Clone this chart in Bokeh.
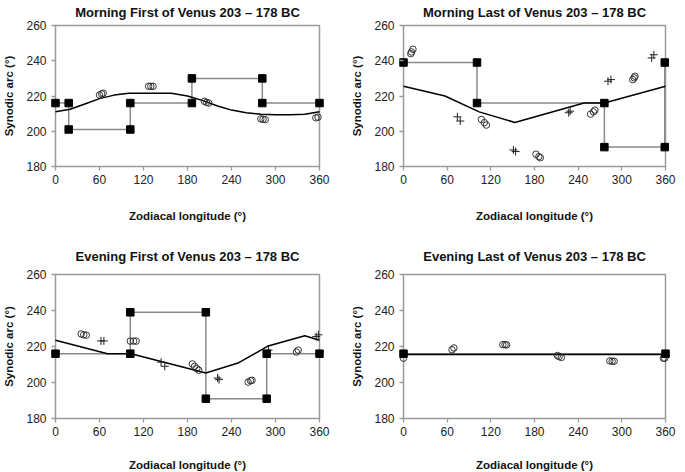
from bokeh.plotting import figure
from bokeh.layouts import gridplot
from bokeh.models import Range1d, FixedTicker
from bokeh.embed import file_html
from bokeh.resources import INLINE

x_ticks = [0, 60, 120, 180, 240, 300, 360]
y_ticks = [180, 200, 220, 240, 260]

titles = ["Morning First of Venus 203 \u2013 178 BC",
          "Morning Last of Venus 203 \u2013 178 BC",
          "Evening First of Venus 203 \u2013 178 BC",
          "Evening Last of Venus 203 \u2013 178 BC"]

# Morning First
mf_step_x = [0, 18, 18, 102, 102, 186, 186, 282, 282, 360]
mf_step_y = [216, 216, 201, 201, 216, 216, 230, 230, 216, 216]
mf_curve_x = [0, 20, 40, 60, 80, 100, 120, 140, 158, 180, 200, 220, 240, 260, 280, 300, 320, 340, 360]
mf_curve_y = [211, 212.5, 215.5, 218.5, 220.5, 221.5, 221.6, 221.6, 221.5, 220, 217.5, 214.5, 212, 210.5, 209.6, 209.4, 209.4, 209.6, 211]
mf_circ_x = [60, 63, 65, 127, 130, 133, 203, 206, 209, 280, 283, 286, 355, 358]
mf_circ_y = [220.6, 221.2, 221.6, 225.5, 225.5, 225.5, 217, 216.4, 216, 207, 206.8, 206.6, 207.6, 208]
mf_cross_x = []
mf_cross_y = []

# Morning Last
ml_step_x = [0, 101, 101, 276, 276, 359, 359]
ml_step_y = [239, 239, 216, 216, 191, 191, 239]
ml_curve_x = [0, 57, 104, 153, 248, 276, 360]
ml_curve_y = [225.5, 220, 211, 205, 216, 216, 225.5]
ml_circ_x = [10, 11, 13, 107, 111, 114, 182, 186, 188, 257, 261, 263, 315, 317, 318]
ml_circ_y = [244, 245, 246.5, 206.7, 204.9, 203.5, 187, 185.6, 185, 209.7, 211, 212, 229.3, 230.3, 231.2]
ml_cross_x = [74, 78, 151, 154, 227, 229, 281, 285, 341, 344]
ml_cross_y = [208.2, 205.8, 189.4, 188.5, 210.5, 211.4, 228.4, 229.3, 241.6, 243.4]

# Evening First
ef_step_x = [0, 102, 102, 205, 205, 288, 288, 360]
ef_step_y = [216, 216, 239, 239, 191, 191, 216, 216]
ef_curve_x = [0, 71, 103, 205, 250, 290, 340, 360]
ef_curve_y = [223.5, 216, 216, 205.3, 211, 220.3, 226, 223.5]
ef_circ_x = [35, 38.5, 42, 102, 106.5, 110, 186.5, 189.6, 192.7, 195.4, 262.7, 266, 268, 328.5, 331]
ef_circ_y = [227, 226.5, 226.3, 223, 223, 223, 210.3, 209, 207.7, 206.8, 200.2, 201, 201.2, 216.9, 218]
ef_cross_x = [62, 66, 144, 149, 221, 223, 290.5, 355.5, 358.5]
ef_cross_y = [223.1, 223.1, 211.3, 209, 202.5, 201.6, 218, 225.5, 226.5]

# Evening Last
el_step_x = [0, 360]
el_step_y = [216, 216]
el_curve_x = [0, 360]
el_curve_y = [215.6, 215.6]
el_circ_x = [0, 66.6, 69.3, 136.4, 139.5, 141.7, 211.5, 213.8, 216.9, 283.5, 286.7, 289.4, 357, 359]
el_circ_y = [213.5, 218.2, 219.2, 221, 221, 220.9, 215, 214.4, 213.9, 212, 211.8, 211.8, 213.5, 213.5]
el_cross_x = []
el_cross_y = []

FONT = "Liberation Sans"
GRAY = "#9a9a9a"
PAD = 5  # px of free frame around the plot box, so edge markers are not clipped


def panel(title, sx, sy, cx, cy, ox, oy, px, py, box_w, box_h, bl, br, bt, bb, title_standoff, xlab_standoff):
    x0, x1 = x_ticks[0], x_ticks[-1]
    y0, y1 = y_ticks[0], y_ticks[-1]
    xpad = PAD * (x1 - x0) / box_w
    ypad = PAD * (y1 - y0) / box_h
    p = figure(frame_width=box_w + 2 * PAD, frame_height=box_h + 2 * PAD,
               x_range=Range1d(x0 - xpad, x1 + xpad), y_range=Range1d(y0 - ypad, y1 + ypad),
               output_backend="svg", toolbar_location=None, title=title,
               min_border_left=bl, min_border_right=br, min_border_top=bt, min_border_bottom=bb)
    p.title.text_font = FONT
    p.title.text_font_size = "13px"
    p.title.text_font_style = "bold"
    p.title.align = "center"
    p.title.text_color = "#111111"
    p.title.standoff = title_standoff
    p.xgrid.visible = False
    p.ygrid.visible = False
    p.outline_line_color = None
    p.background_fill_color = "white"
    p.border_fill_color = "white"
    for ax in (p.xaxis[0], p.yaxis[0]):
        ax.axis_line_color = None
        ax.major_tick_line_color = GRAY
        ax.major_tick_line_width = 1.3
        ax.major_tick_in = PAD
        ax.major_tick_out = -1
        ax.minor_tick_line_color = None
        ax.major_label_text_font = FONT
        ax.major_label_text_font_size = "12px"
        ax.major_label_text_color = "#222222"
        ax.axis_label_text_font = FONT
        ax.axis_label_text_font_size = "11.5px"
        ax.axis_label_text_font_style = "bold"
        ax.axis_label_text_color = "#111111"
    p.xaxis.ticker = FixedTicker(ticks=x_ticks)
    p.yaxis.ticker = FixedTicker(ticks=y_ticks)
    p.xaxis.axis_label = "Zodiacal longitude (\u00b0)"
    p.yaxis.axis_label = "Synodic arc (\u00b0)"
    p.xaxis.axis_label_standoff = xlab_standoff
    p.yaxis.axis_label_standoff = 8
    p.xaxis.major_label_standoff = 3
    p.yaxis.major_label_standoff = 4

    # plot-area box
    p.quad(left=[x0], right=[x1], bottom=[y0], top=[y1], fill_color=None,
           line_color=GRAY, line_width=1.5)
    p.line(sx, sy, line_color="#8a8a8a", line_width=1.5)
    p.line(cx, cy, line_color="black", line_width=1.5)
    if ox:
        p.scatter(ox, oy, marker="circle", size=6.5, fill_color=None, line_color="#222222", line_width=0.9)
    if px:
        p.scatter(px, py, marker="cross", size=8, line_color="#222222", line_width=1)
    p.scatter(sx, sy, marker="square", size=7.5, fill_color="black", line_color="black")
    return p


p1 = panel(titles[0], mf_step_x, mf_step_y, mf_curve_x, mf_curve_y, mf_circ_x, mf_circ_y, mf_cross_x, mf_cross_y,
           264, 141, 41, 17, 20, 64, 2, 23)
p2 = panel(titles[1], ml_step_x, ml_step_y, ml_curve_x, ml_curve_y, ml_circ_x, ml_circ_y, ml_cross_x, ml_cross_y,
           262, 141, 57, 8, 20, 64, 2, 23)
p3 = panel(titles[2], ef_step_x, ef_step_y, ef_curve_x, ef_curve_y, ef_circ_x, ef_circ_y, ef_cross_x, ef_cross_y,
           264, 144, 41, 17, 34, 51, 12, 20)
p4 = panel(titles[3], el_step_x, el_step_y, el_curve_x, el_curve_y, el_circ_x, el_circ_y, el_cross_x, el_cross_y,
           262, 144, 57, 8, 34, 51, 12, 20)

grid = gridplot([[p1, p2], [p3, p4]], toolbar_location=None)

open("out.html", "w").write(file_html(grid, INLINE))
